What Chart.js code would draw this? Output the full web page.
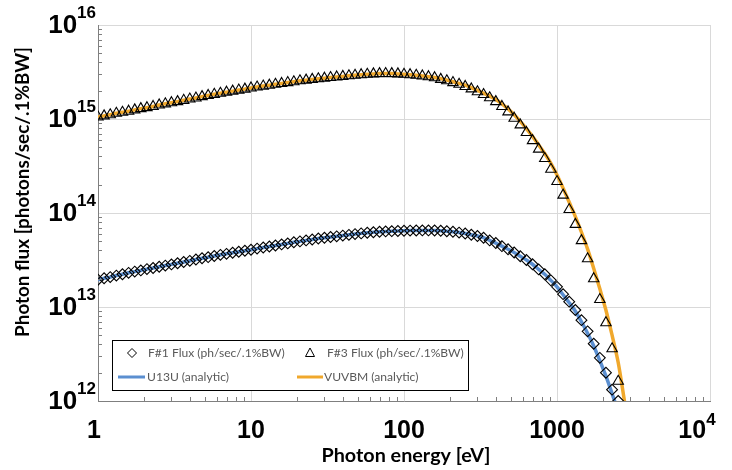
<!DOCTYPE html>
<html>
<head>
<meta charset="utf-8">
<title>Photon flux</title>
<script src="https://cdn.jsdelivr.net/npm/chart.js@4.4.1/dist/chart.umd.min.js"></script>
<style>
  html, body { margin: 0; padding: 0; background: #fff; }
  canvas { display: block; }
</style>
</head>
<body>
<canvas id="flux" width="732" height="470"></canvas>
<script>
// photon energy grid [eV], 25 points per decade
const energies = [
  1, 1.096, 1.202, 1.318, 1.445, 1.585, 1.738, 1.905, 2.089, 2.291,
  2.512, 2.754, 3.020, 3.311, 3.631, 3.981, 4.365, 4.786, 5.248, 5.754,
  6.310, 6.918, 7.586, 8.318, 9.120, 10, 10.96, 12.02, 13.18, 14.45,
  15.85, 17.38, 19.05, 20.89, 22.91, 25.12, 27.54, 30.20, 33.11, 36.31,
  39.81, 43.65, 47.86, 52.48, 57.54, 63.10, 69.18, 75.86, 83.18, 91.20,
  100, 109.6, 120.2, 131.8, 144.5, 158.5, 173.8, 190.5, 208.9, 229.1,
  251.2, 275.4, 302.0, 331.1, 363.1, 398.1, 436.5, 478.6, 524.8, 575.4,
  631.0, 691.8, 758.6, 831.8, 912.0, 1000, 1096, 1202, 1318, 1445,
  1585, 1738, 1905, 2089, 2291, 2512, 2754, 3020
];

// F#1 flux, ph/sec/.1%BW
const f1Flux = [
  1.95e13, 2.02e13, 2.08e13, 2.16e13, 2.23e13, 2.31e13, 2.38e13, 2.45e13, 2.53e13, 2.60e13,
  2.68e13, 2.76e13, 2.84e13, 2.92e13, 3.01e13, 3.10e13, 3.20e13, 3.30e13, 3.39e13, 3.49e13,
  3.59e13, 3.68e13, 3.78e13, 3.87e13, 3.97e13, 4.07e13, 4.18e13, 4.29e13, 4.40e13, 4.51e13,
  4.63e13, 4.75e13, 4.88e13, 4.99e13, 5.11e13, 5.22e13, 5.35e13, 5.45e13, 5.55e13, 5.65e13,
  5.75e13, 5.86e13, 5.97e13, 6.07e13, 6.17e13, 6.24e13, 6.31e13, 6.37e13, 6.41e13, 6.44e13,
  6.47e13, 6.50e13, 6.52e13, 6.53e13, 6.53e13, 6.52e13, 6.47e13, 6.40e13, 6.31e13, 6.19e13,
  6.05e13, 5.87e13, 5.69e13, 5.46e13, 5.11e13, 4.79e13, 4.44e13, 4.11e13, 3.80e13, 3.47e13,
  3.16e13, 2.85e13, 2.51e13, 2.23e13, 1.92e13, 1.64e13, 1.37e13, 1.14e13, 9.29e12, 7.24e12,
  5.51e12, 4.07e12, 2.88e12, 2.00e12, 1.32e12, 1.00e12
];

// F#3 flux, ph/sec/.1%BW
const f3Flux = [
  1.05e15, 1.08e15, 1.11e15, 1.15e15, 1.18e15, 1.21e15, 1.25e15, 1.29e15, 1.32e15, 1.36e15,
  1.41e15, 1.45e15, 1.49e15, 1.53e15, 1.58e15, 1.63e15, 1.67e15, 1.73e15, 1.78e15, 1.83e15,
  1.88e15, 1.93e15, 1.98e15, 2.03e15, 2.08e15, 2.14e15, 2.19e15, 2.24e15, 2.29e15, 2.34e15,
  2.39e15, 2.44e15, 2.49e15, 2.55e15, 2.59e15, 2.64e15, 2.68e15, 2.72e15, 2.76e15, 2.80e15,
  2.84e15, 2.88e15, 2.92e15, 2.96e15, 2.99e15, 3.02e15, 3.04e15, 3.05e15, 3.04e15, 3.02e15,
  2.99e15, 2.96e15, 2.92e15, 2.87e15, 2.82e15, 2.75e15, 2.64e15, 2.55e15, 2.44e15, 2.34e15,
  2.22e15, 2.09e15, 1.95e15, 1.82e15, 1.68e15, 1.53e15, 1.36e15, 1.19e15, 1.02e15, 8.65e14,
  7.19e14, 5.89e14, 4.78e14, 3.80e14, 2.92e14, 2.16e14, 1.55e14, 1.09e14, 7.57e13, 5.08e13,
  3.26e13, 2.00e13, 1.20e13, 6.81e12, 3.59e12, 1.62e12
];

// U13U analytic flux
const u13uFlux = [
  1.95e13, 2.02e13, 2.08e13, 2.16e13, 2.23e13, 2.31e13, 2.38e13, 2.45e13, 2.53e13, 2.60e13,
  2.68e13, 2.76e13, 2.84e13, 2.92e13, 3.01e13, 3.10e13, 3.20e13, 3.30e13, 3.39e13, 3.49e13,
  3.59e13, 3.68e13, 3.78e13, 3.87e13, 3.97e13, 4.07e13, 4.18e13, 4.29e13, 4.40e13, 4.51e13,
  4.63e13, 4.75e13, 4.88e13, 4.99e13, 5.11e13, 5.22e13, 5.35e13, 5.45e13, 5.55e13, 5.65e13,
  5.75e13, 5.86e13, 5.97e13, 6.07e13, 6.17e13, 6.24e13, 6.31e13, 6.37e13, 6.41e13, 6.44e13,
  6.47e13, 6.50e13, 6.52e13, 6.53e13, 6.53e13, 6.52e13, 6.47e13, 6.40e13, 6.31e13, 6.19e13,
  6.05e13, 5.87e13, 5.69e13, 5.46e13, 5.11e13, 4.79e13, 4.44e13, 4.11e13, 3.80e13, 3.47e13,
  3.16e13, 2.85e13, 2.51e13, 2.23e13, 1.92e13, 1.64e13, 1.35e13, 1.11e13, 9.02e12, 6.97e12,
  5.25e12, 3.85e12, 2.69e12, 1.84e12, 1.20e12, 7.6e11, 4.0e11
];

// VUVBM analytic flux
const vuvbmFlux = [
  1.05e15, 1.08e15, 1.11e15, 1.15e15, 1.18e15, 1.21e15, 1.25e15, 1.29e15, 1.32e15, 1.36e15,
  1.41e15, 1.45e15, 1.49e15, 1.53e15, 1.58e15, 1.63e15, 1.67e15, 1.73e15, 1.78e15, 1.83e15,
  1.88e15, 1.93e15, 1.98e15, 2.03e15, 2.08e15, 2.14e15, 2.19e15, 2.24e15, 2.29e15, 2.34e15,
  2.39e15, 2.44e15, 2.49e15, 2.55e15, 2.59e15, 2.64e15, 2.68e15, 2.72e15, 2.76e15, 2.80e15,
  2.84e15, 2.88e15, 2.92e15, 2.96e15, 2.99e15, 3.02e15, 3.04e15, 3.05e15, 3.04e15, 3.02e15,
  2.99e15, 2.96e15, 2.92e15, 2.87e15, 2.82e15, 2.77e15, 2.69e15, 2.59e15, 2.49e15, 2.39e15,
  2.29e15, 2.16e15, 2.02e15, 1.88e15, 1.75e15, 1.61e15, 1.45e15, 1.28e15, 1.11e15, 9.44e14,
  7.91e14, 6.53e14, 5.31e14, 4.29e14, 3.37e14, 2.54e14, 1.84e14, 1.30e14, 9.16e13, 6.24e13,
  4.13e13, 2.57e13, 1.56e13, 9.25e12, 5.01e12, 2.57e12, 1.02e12, 4.0e11
];

const seriesNames = ['F#1 Flux (ph/sec/.1%BW)', 'F#3 Flux (ph/sec/.1%BW)', 'U13U (analytic)', 'VUVBM (analytic)'];

// axis decades and their tick labels (base + superscript)
const xDecades = [1, 10, 100, 1000, 10000];
const xTickBase = ['1', '10', '100', '1000', '10'];
const xTickExp = ['', '', '', '', '4'];
const yDecades = [1e12, 1e13, 1e14, 1e15, 1e16];
const yTickExp = ['12', '13', '14', '15', '16'];

const xTitle = 'Photon energy [eV]';
const yTitle = 'Photon flux [photons/sec/.1%BW]';

const BLUE = '#5b8fd0';
const ORANGE = '#f0a82c';

const pts = (vals) => vals.map((v, i) => ({ x: energies[i], y: v }));

const isDecade = (v) => {
  const m = v / Math.pow(10, Math.round(Math.log10(v)));
  return Math.abs(m - 1) < 1e-6;
};

// pick a font size so the text spans the given width
function fitFont(ctx, text, weight, family, width) {
  ctx.font = `${weight} 20px ${family}`;
  const size = 20 * width / ctx.measureText(text).width;
  return `${weight} ${size.toFixed(2)}px ${family}`;
}

const decorations = {
  id: 'decorations',
  afterDraw(chart) {
    const { ctx, chartArea: a, scales: { x, y } } = chart;
    ctx.save();

    // minor tick marks inside the plot
    ctx.strokeStyle = '#7f7f7f';
    ctx.lineWidth = 1;
    ctx.beginPath();
    for (let d = 0; d < 4; d++) {
      for (let m = 2; m <= 9; m++) {
        const px = Math.round(x.getPixelForValue(m * Math.pow(10, d))) + 0.5;
        ctx.moveTo(px, a.bottom);
        ctx.lineTo(px, a.bottom - 4);
      }
    }
    for (let d = 12; d < 16; d++) {
      for (let m = 2; m <= 9; m++) {
        const py = Math.round(y.getPixelForValue(m * Math.pow(10, d))) + 0.5;
        ctx.moveTo(a.left, py);
        ctx.lineTo(a.left + 4, py);
      }
    }
    ctx.stroke();

    // y tick labels: 10 with superscript exponent
    ctx.fillStyle = '#000';
    ctx.textBaseline = 'alphabetic';
    ctx.textAlign = 'left';
    yDecades.forEach((v, i) => {
      const py = y.getPixelForValue(v);
      ctx.font = 'bold 17px "Liberation Sans"';
      const ew = ctx.measureText(yTickExp[i]).width;
      ctx.font = 'bold 26px "Liberation Sans"';
      const bw = ctx.measureText('10').width;
      const right = a.left - 2;
      ctx.fillText('10', right - ew - bw, py + 8);
      ctx.font = 'bold 17px "Liberation Sans"';
      ctx.fillText(yTickExp[i], right - ew, py - 7);
    });

    // x tick labels
    xDecades.forEach((v, i) => {
      let px = x.getPixelForValue(v);
      if (i === 0) px -= 4;
      if (i === xDecades.length - 1) px -= 13;
      ctx.font = 'bold 25px "Liberation Sans"';
      const bw = ctx.measureText(xTickBase[i]).width;
      ctx.font = 'bold 17px "Liberation Sans"';
      const ew = xTickExp[i] ? ctx.measureText(xTickExp[i]).width : 0;
      const start = px - (bw + ew) / 2;
      ctx.font = 'bold 25px "Liberation Sans"';
      ctx.fillText(xTickBase[i], start, a.bottom + 37);
      if (xTickExp[i]) {
        ctx.font = 'bold 17px "Liberation Sans"';
        ctx.fillText(xTickExp[i], start + bw, a.bottom + 24);
      }
    });

    // axis titles
    ctx.textAlign = 'center';
    ctx.font = fitFont(ctx, xTitle, 'bold', 'Lato', 169);
    ctx.fillText(xTitle, (a.left + a.right) / 2 + 2, 462);
    ctx.save();
    ctx.translate(29, 192);
    ctx.rotate(-Math.PI / 2);
    ctx.font = fitFont(ctx, yTitle, 'bold', 'Lato', 290);
    ctx.fillText(yTitle, 0, 0);
    ctx.restore();

    // legend box
    ctx.fillStyle = '#fff';
    ctx.fillRect(112, 340, 356, 50);
    ctx.strokeStyle = '#000';
    ctx.lineWidth = 1;
    ctx.strokeRect(112.5, 340.5, 356, 50);

    const row1 = 353, row2 = 377;
    ctx.lineWidth = 1;
    ctx.beginPath();
    ctx.moveTo(132, row1 - 4.5);
    ctx.lineTo(136.5, row1);
    ctx.lineTo(132, row1 + 4.5);
    ctx.lineTo(127.5, row1);
    ctx.closePath();
    ctx.stroke();
    ctx.beginPath();
    ctx.moveTo(310, row1 - 5);
    ctx.lineTo(314.5, row1 + 3.5);
    ctx.lineTo(305.5, row1 + 3.5);
    ctx.closePath();
    ctx.stroke();

    ctx.lineWidth = 3;
    ctx.strokeStyle = BLUE;
    ctx.beginPath();
    ctx.moveTo(118, row2);
    ctx.lineTo(145, row2);
    ctx.stroke();
    ctx.strokeStyle = ORANGE;
    ctx.beginPath();
    ctx.moveTo(297, row2);
    ctx.lineTo(323, row2);
    ctx.stroke();

    ctx.fillStyle = '#595959';
    ctx.textAlign = 'left';
    ctx.textBaseline = 'middle';
    ctx.font = fitFont(ctx, seriesNames[0], 'normal', 'Lato', 137);
    ctx.fillText(seriesNames[0], 148, row1);
    ctx.fillText(seriesNames[1], 327, row1);
    ctx.fillText(seriesNames[2], 147, row2);
    ctx.fillText(seriesNames[3], 324, row2);

    ctx.restore();
  }
};

new Chart(document.getElementById('flux'), {
  type: 'scatter',
  data: {
    datasets: [
      {
        label: seriesNames[0],
        data: pts(f1Flux),
        pointStyle: 'rectRot',
        pointRadius: 5.4,
        pointBorderWidth: 1.1,
        borderColor: '#000',
        backgroundColor: 'rgba(0,0,0,0)',
        showLine: false,
        order: 0
      },
      {
        label: seriesNames[1],
        data: pts(f3Flux),
        pointStyle: 'triangle',
        pointRadius: 6,
        pointBorderWidth: 1.1,
        borderColor: '#000',
        backgroundColor: 'rgba(0,0,0,0)',
        showLine: false,
        order: 0
      },
      {
        label: seriesNames[2],
        data: pts(u13uFlux),
        showLine: true,
        pointRadius: 0,
        borderColor: BLUE,
        borderWidth: 3.5,
        tension: 0.3,
        order: 1
      },
      {
        label: seriesNames[3],
        data: pts(vuvbmFlux),
        showLine: true,
        pointRadius: 0,
        borderColor: ORANGE,
        borderWidth: 3.5,
        tension: 0.3,
        order: 1
      }
    ]
  },
  options: {
    responsive: false,
    animation: false,
    devicePixelRatio: 1,
    layout: { padding: { left: 98, right: 22, top: 25, bottom: 69 } },
    plugins: {
      legend: { display: false },
      tooltip: { enabled: false }
    },
    scales: {
      x: {
        type: 'logarithmic',
        min: 1,
        max: 10000,
        ticks: { display: false },
        grid: {
          drawTicks: false,
          color: (c) => (c.tick && isDecade(c.tick.value) ? '#d9d9d9' : 'rgba(0,0,0,0)')
        },
        border: { display: true, color: '#7f7f7f' }
      },
      y: {
        type: 'logarithmic',
        min: 1e12,
        max: 1e16,
        ticks: { display: false },
        grid: {
          drawTicks: false,
          color: (c) => (c.tick && isDecade(c.tick.value) ? '#d9d9d9' : 'rgba(0,0,0,0)')
        },
        border: { display: true, color: '#7f7f7f' }
      }
    }
  },
  plugins: [decorations]
});
</script>
</body>
</html>
